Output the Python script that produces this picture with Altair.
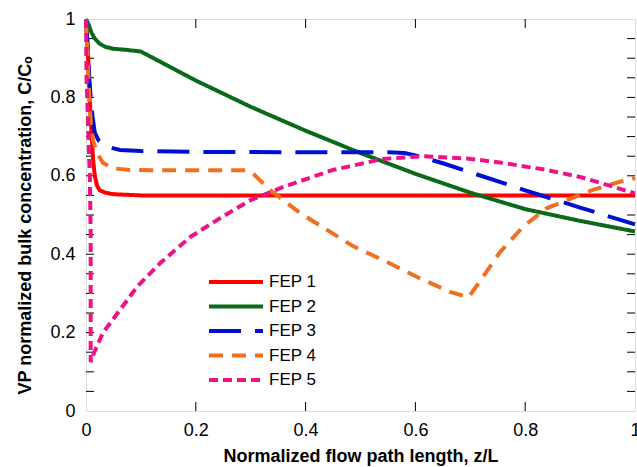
import altair as alt
import pandas as pd

# Series names and styling
SERIES = ["FEP 1", "FEP 2", "FEP 3", "FEP 4", "FEP 5"]
COLORS = ["#ff0000", "#0a6a1a", "#0010d0", "#f07020", "#ee1188"]
DASHES = [[1, 0], [1, 0], [32, 14], [14, 9], [9, 5]]

# Normalized flow path length (z/L) and normalized concentration (C/Co) per series
fep1_z = [0, 0.004, 0.007, 0.010, 0.013, 0.016, 0.020, 0.025, 0.035, 0.05, 0.1, 0.4, 0.7, 1.0]
fep1_c = [1.0, 0.90, 0.79, 0.71, 0.64, 0.60, 0.575, 0.563, 0.557, 0.553, 0.55, 0.55, 0.55, 0.55]

fep2_z = [0, 0.005, 0.010, 0.016, 0.025, 0.035, 0.05, 0.075, 0.1, 0.15, 0.2, 0.3, 0.4, 0.5,
          0.6, 0.7, 0.8, 0.9, 1.0]
fep2_c = [1.0, 0.985, 0.965, 0.950, 0.937, 0.929, 0.924, 0.921, 0.917, 0.880, 0.843, 0.776,
          0.715, 0.658, 0.605, 0.557, 0.515, 0.485, 0.458]

fep3_z = [0, 0.003, 0.006, 0.009, 0.012, 0.016, 0.023, 0.031, 0.045, 0.062, 0.1, 0.2, 0.4,
          0.55, 0.58, 0.6, 0.65, 0.7, 0.8, 0.9, 1.0]
fep3_c = [1.0, 0.93, 0.85, 0.79, 0.75, 0.71, 0.69, 0.68, 0.672, 0.666, 0.663, 0.661, 0.66,
          0.66, 0.658, 0.652, 0.632, 0.609, 0.563, 0.519, 0.476]

fep4_z = [0, 0.003, 0.006, 0.009, 0.013, 0.020, 0.031, 0.05, 0.08, 0.15, 0.29, 0.305, 0.335,
          0.39, 0.439, 0.487, 0.541, 0.603, 0.663, 0.697, 0.723, 0.754, 0.796, 0.839, 0.876,
          0.923, 0.973, 1.0]
fep4_c = [1.0, 0.90, 0.80, 0.73, 0.69, 0.658, 0.633, 0.619, 0.615, 0.614, 0.614, 0.605, 0.564,
          0.505, 0.462, 0.42, 0.385, 0.342, 0.304, 0.29, 0.342, 0.405, 0.47, 0.517, 0.538,
          0.564, 0.585, 0.594]

fep5_z = [0, 0.001, 0.004, 0.007, 0.0085, 0.0085, 0.015, 0.031, 0.062, 0.093, 0.135, 0.19,
          0.25, 0.3, 0.36, 0.45, 0.541, 0.614, 0.694, 0.754, 0.839, 0.9, 0.949, 1.0]
fep5_c = [1.0, 0.85, 0.72, 0.60, 0.45, 0.125, 0.15, 0.20, 0.258, 0.317, 0.377, 0.444,
          0.497, 0.538, 0.572, 0.615, 0.643, 0.65, 0.644, 0.634, 0.615, 0.597, 0.577, 0.555]

# Axis tick positions
X_LABELS = [0, 0.2, 0.4, 0.6, 0.8, 1]
Y_LABELS = [0, 0.2, 0.4, 0.6, 0.8, 1]
X_TICKS = [0.2, 0.4, 0.6, 0.8]
Y_TICKS = [0.05, 0.1, 0.15, 0.2, 0.25, 0.3, 0.35, 0.4, 0.45, 0.5, 0.55, 0.6, 0.65, 0.7,
           0.75, 0.8, 0.85, 0.9, 0.95]

W, H = 549, 392
FONT = "Liberation Sans"

rows = []
for name, zs, cs in [("FEP 1", fep1_z, fep1_c), ("FEP 2", fep2_z, fep2_c),
                     ("FEP 3", fep3_z, fep3_c), ("FEP 4", fep4_z, fep4_c),
                     ("FEP 5", fep5_z, fep5_c)]:
    for i, (z, c) in enumerate(zip(zs, cs)):
        rows.append({"series": name, "z": z, "c": c, "idx": i})
df = pd.DataFrame(rows)

xs = alt.Scale(domain=[0, 1], nice=False, zero=False)
ys = alt.Scale(domain=[0, 1], nice=False, zero=False)

legend = alt.Legend(
    title=None, orient="none", legendX=121, legendY=255,
    symbolType="stroke", symbolSize=2916, symbolStrokeWidth=4,
    clipHeight=16, rowPadding=7.5, labelFont=FONT, labelFontSize=17,
    labelColor="black", labelOffset=4, padding=0,
)

lines = alt.Chart(df).mark_line(strokeWidth=4, strokeCap="butt").encode(
    x=alt.X("z:Q", scale=xs, axis=alt.Axis(
        values=X_LABELS, format="~g", ticks=False, tickSize=0, domain=False, grid=False,
        labelFlush=False, labelFont=FONT, labelFontSize=18, labelColor="black",
        labelPadding=10, title="Normalized flow path length, z/L", titleFont=FONT,
        titleFontSize=18, titleFontWeight="bold", titleColor="black", titlePadding=8,
    )),
    y=alt.Y("c:Q", scale=ys, axis=alt.Axis(
        values=Y_LABELS, format="~g", ticks=False, tickSize=0, domain=False, grid=False,
        labelFlush=False, labelFont=FONT, labelFontSize=18, labelColor="black",
        labelPadding=11, title="VP normalized bulk concentration, C/Cₒ", titleFont=FONT,
        titleFontSize=18, titleFontWeight="bold", titleColor="black", titlePadding=15,
        titleY=H / 2 + 10,
    )),
    color=alt.Color("series:N", scale=alt.Scale(domain=SERIES, range=COLORS), legend=legend),
    strokeDash=alt.StrokeDash("series:N", scale=alt.Scale(domain=SERIES, range=DASHES),
                              legend=legend),
    order="idx:Q",
)

xt = pd.DataFrame({"t": X_TICKS})
yt = pd.DataFrame({"t": Y_TICKS})

x_bottom = alt.Chart(xt).mark_rule(color="black", strokeWidth=1).encode(
    x=alt.X("t:Q", scale=xs), y=alt.value(H), y2=alt.value(H - 9))
x_top = alt.Chart(xt).mark_rule(color="black", strokeWidth=1).encode(
    x=alt.X("t:Q", scale=xs), y=alt.value(0), y2=alt.value(9))
y_left = alt.Chart(yt).mark_rule(color="black", strokeWidth=1).encode(
    y=alt.Y("t:Q", scale=ys), x=alt.value(0), x2=alt.value(8))
y_right = alt.Chart(yt).mark_rule(color="black", strokeWidth=1).encode(
    y=alt.Y("t:Q", scale=ys), x=alt.value(W - 8), x2=alt.value(W))

chart = alt.layer(x_bottom, x_top, y_left, y_right, lines).properties(
    width=W, height=H,
    autosize=alt.AutoSizeParams(type="none"),
    padding={"left": 86, "top": 19, "right": 2, "bottom": 56},
).configure_view(stroke="black", strokeWidth=1.3).configure(background="white")

chart.save("out.html", embed_options={"renderer": "svg", "actions": False})
